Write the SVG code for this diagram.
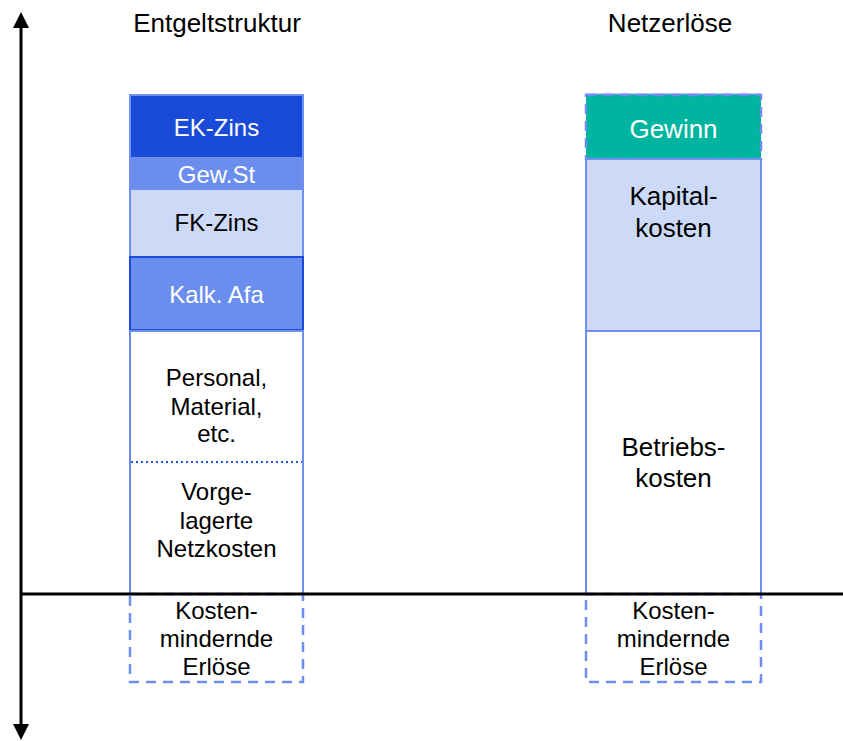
<svg xmlns="http://www.w3.org/2000/svg" width="843" height="741" viewBox="0 0 843 741">
  <style>
    text { font-family: "Liberation Sans", Arial, sans-serif; text-anchor: middle; fill: #000; }
    .t24 { font-size: 24px; }
    .t26 { font-size: 26px; }
    .w { fill: #fff; }
    .seg { stroke: #7090F0; stroke-width: 2; }
    .dash { fill: #fff; stroke: #6F8FEF; stroke-width: 2.5; stroke-dasharray: 10 7; }
    .axis { stroke: #000; stroke-width: 3; fill: none; }
  </style>
  <defs>
    <marker id="arrow" viewBox="0 0 16 16" refX="4" refY="8" markerWidth="16" markerHeight="16" markerUnits="userSpaceOnUse" orient="auto-start-reverse">
      <path d="M0,0 L16,8 L0,16 Z" fill="#000"/>
    </marker>
  </defs>
  <rect width="843" height="741" fill="#fff"/>

  <!-- column titles -->
  <g id="title-entgelt"><text class="t26" x="217" y="32">Entgeltstruktur</text></g>
  <g id="title-netz"><text class="t26" x="670" y="32">Netzerlöse</text></g>

  <!-- left column: charge structure -->
  <g id="ek-zins">
    <rect class="seg" x="130" y="95" width="173" height="63" fill="#1A4BD8"/>
    <text class="t24 w" x="216.5" y="135.5">EK-Zins</text>
  </g>
  <g id="gew-st">
    <rect class="seg" x="130" y="158" width="173" height="31" fill="#6B8EEE"/>
    <text class="t24 w" x="216.5" y="182.5">Gew.St</text>
  </g>
  <g id="fk-zins">
    <rect class="seg" x="130" y="189" width="173" height="68" fill="#CCDAF8"/>
    <text class="t24" x="216.5" y="230.5">FK-Zins</text>
  </g>
  <g id="kalk-afa">
    <rect x="130" y="257" width="173" height="73" fill="#6B8EEE" stroke="#1A4BD8" stroke-width="2"/>
    <text class="t24 w" x="216.5" y="302.5">Kalk. Afa</text>
  </g>
  <g id="betrieb-left">
    <rect class="seg" x="130" y="331" width="173" height="263" fill="#fff"/>
    <line x1="131" y1="462" x2="302" y2="462" stroke="#2255DD" stroke-width="2" stroke-dasharray="2 3"/>
    <text class="t24" x="216.5" y="386">Personal,</text>
    <text class="t24" x="216.5" y="414.5">Material,</text>
    <text class="t24" x="216.5" y="442">etc.</text>
    <text class="t24" x="216.5" y="500">Vorge-</text>
    <text class="t24" x="216.5" y="528.5">lagerte</text>
    <text class="t24" x="216.5" y="557">Netzkosten</text>
  </g>
  <g id="erloese-left">
    <rect class="dash" x="130" y="594" width="173" height="88"/>
    <text class="t24" x="216.5" y="619">Kosten-</text>
    <text class="t24" x="216.5" y="647">mindernde</text>
    <text class="t24" x="216.5" y="675">Erlöse</text>
  </g>

  <!-- right column: network revenues -->
  <g id="gewinn">
    <rect x="586" y="95" width="175" height="64" fill="#00B5A0" stroke="#6B8EEE" stroke-width="2.5" stroke-dasharray="10 7"/>
    <rect x="586" y="93.5" width="175" height="1.5" fill="#7090F0"/>
    <text class="t26 w" x="673.5" y="137.5">Gewinn</text>
  </g>
  <g id="kapitalkosten">
    <rect class="seg" x="586" y="159" width="175" height="172" fill="#CCDAF8"/>
    <text class="t26" x="673.5" y="205">Kapital-</text>
    <text class="t26" x="673.5" y="237">kosten</text>
  </g>
  <g id="betriebskosten">
    <rect class="seg" x="586" y="331" width="175" height="263" fill="#fff"/>
    <text class="t26" x="673.5" y="456">Betriebs-</text>
    <text class="t26" x="673.5" y="487">kosten</text>
  </g>
  <g id="erloese-right">
    <rect class="dash" x="586" y="594" width="175" height="88"/>
    <text class="t24" x="673.5" y="619">Kosten-</text>
    <text class="t24" x="673.5" y="647">mindernde</text>
    <text class="t24" x="673.5" y="675">Erlöse</text>
  </g>

  <!-- axes -->
  <g id="connectors">
    <line class="axis" x1="21" y1="24" x2="21" y2="728" marker-start="url(#arrow)" marker-end="url(#arrow)"/>
    <line class="axis" x1="21" y1="594" x2="843" y2="594"/>
  </g>
</svg>
